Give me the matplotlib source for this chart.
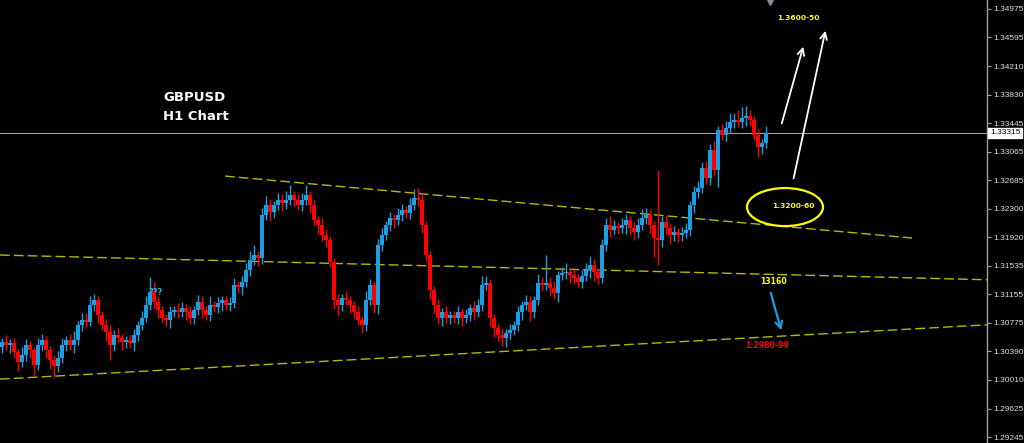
import numpy as np
import matplotlib
matplotlib.use('Agg')
import matplotlib.pyplot as plt
from matplotlib.patches import Ellipse

# ---------------------------------------------------------------------------
# GBPUSD H1 closes (open = previous close)
first_open = 1.30450
closes = [
    1.30516, 1.30475, 1.30502, 1.30382, 1.30248, 1.30342, 1.30475, 1.30409,
    1.30208, 1.30475, 1.30543, 1.30409, 1.30275, 1.30194, 1.30302, 1.30475,
    1.30543, 1.30475, 1.30543, 1.30743, 1.30810, 1.30783, 1.31011, 1.31078,
    1.30877, 1.30743, 1.30650, 1.30475, 1.30610, 1.30569, 1.30516, 1.30543,
    1.30502, 1.30610, 1.30743, 1.30837, 1.31011, 1.31185, 1.31051, 1.30944,
    1.30837, 1.30810, 1.30917, 1.30944, 1.30917, 1.30971, 1.30917, 1.30837,
    1.30944, 1.31051, 1.30944, 1.30877, 1.31011, 1.30984, 1.31038, 1.31078,
    1.31011, 1.31038, 1.31279, 1.31252, 1.31319, 1.31480, 1.31614, 1.31681,
    1.31641, 1.32216, 1.32350, 1.32256, 1.32350, 1.32417, 1.32377, 1.32417,
    1.32484, 1.32417, 1.32350, 1.32417, 1.32484, 1.32350, 1.32149, 1.32082,
    1.31949, 1.31882, 1.31587, 1.31078, 1.31011, 1.31105, 1.31078, 1.31011,
    1.30917, 1.30810, 1.30743, 1.31078, 1.31279, 1.31011, 1.31815, 1.31949,
    1.32082, 1.32176, 1.32149, 1.32216, 1.32283, 1.32243, 1.32350, 1.32444,
    1.32417, 1.32082, 1.31681, 1.31212, 1.31011, 1.30837, 1.30917, 1.30837,
    1.30877, 1.30837, 1.30917, 1.30837, 1.30877, 1.30971, 1.30917, 1.31011,
    1.31279, 1.31306, 1.30837, 1.30703, 1.30610, 1.30569, 1.30636, 1.30677,
    1.30743, 1.30917, 1.31011, 1.31051, 1.30917, 1.31078, 1.31306, 1.31279,
    1.31306, 1.31239, 1.31172, 1.31413, 1.31440, 1.31453, 1.31413, 1.31373,
    1.31319, 1.31400, 1.31480, 1.31547, 1.31453, 1.31373, 1.31815, 1.32082,
    1.32016, 1.32069, 1.32042, 1.32082, 1.32149, 1.32042, 1.31989, 1.32082,
    1.32176, 1.32216, 1.32082, 1.31909, 1.31882, 1.32122, 1.32042, 1.31949,
    1.31989, 1.31949, 1.31975, 1.32016, 1.32350, 1.32524, 1.32578, 1.32845,
    1.32712, 1.33087, 1.32819, 1.33354, 1.33287, 1.33381, 1.33461, 1.33488,
    1.33461, 1.33515, 1.33542, 1.33488, 1.33287, 1.33127, 1.33180, 1.33314,
]
# wick lengths in pips above / below the body
wick_up = [
    6, 9, 5, 7, 4, 11, 8, 6, 4, 10, 8, 6, 5, 7, 9, 10,
    6, 8, 12, 6, 9, 10, 12, 8, 6, 5, 8, 10, 7, 9, 6, 5,
    7, 8, 6, 10, 12, 20, 14, 8, 6, 5, 8, 6, 10, 8, 6, 8,
    6, 10, 8, 6, 12, 6, 8, 6, 5, 8, 10, 6, 8, 10, 12, 13,
    6, 10, 12, 8, 6, 10, 8, 12, 13, 6, 8, 10, 14, 6, 8, 6,
    10, 8, 6, 5, 8, 6, 10, 6, 5, 8, 6, 12, 8, 6, 8, 10,
    6, 8, 6, 10, 8, 6, 10, 12, 14, 8, 6, 5, 6, 8, 6, 8,
    6, 5, 8, 6, 8, 6, 10, 8, 12, 10, 6, 5, 6, 8, 6, 8,
    6, 8, 6, 10, 8, 6, 12, 8, 37, 8, 10, 6, 8, 12, 6, 8,
    6, 8, 10, 12, 8, 6, 8, 10, 12, 8, 6, 10, 8, 6, 8, 10,
    12, 10, 8, 6, 91, 8, 10, 6, 8, 6, 8, 10, 6, 8, 10, 8,
    10, 8, 12, 6, 8, 10, 12, 10, 13, 15, 14, 8, 6, 8, 6, 10,
]
wick_dn = [
    8, 6, 10, 8, 12, 6, 8, 10, 14, 6, 8, 10, 12, 14, 8, 6,
    8, 6, 10, 6, 8, 6, 5, 8, 10, 6, 12, 20, 8, 6, 10, 8,
    6, 10, 8, 6, 5, 6, 8, 10, 6, 8, 10, 6, 8, 6, 10, 8,
    8, 6, 10, 6, 8, 6, 8, 10, 6, 8, 6, 8, 10, 6, 8, 6,
    10, 8, 6, 12, 8, 6, 10, 8, 6, 8, 6, 8, 6, 10, 8, 12,
    8, 10, 6, 12, 14, 8, 6, 10, 8, 6, 10, 8, 6, 10, 12, 8,
    6, 8, 10, 6, 8, 6, 8, 6, 8, 10, 8, 12, 10, 8, 10, 6,
    8, 6, 8, 10, 6, 8, 10, 6, 8, 6, 10, 12, 8, 10, 12, 8,
    6, 8, 10, 6, 12, 8, 6, 8, 6, 10, 8, 12, 6, 8, 10, 8,
    6, 8, 6, 10, 12, 8, 6, 8, 10, 6, 8, 6, 12, 8, 10, 8,
    6, 8, 10, 25, 33, 10, 8, 12, 8, 10, 8, 6, 8, 10, 8, 6,
    8, 10, 8, 23, 6, 8, 6, 8, 6, 8, 10, 8, 6, 13, 10, 6,
]
PIP = 0.0001

price_ticks = [1.34975, 1.34595, 1.34210, 1.33830, 1.33445, 1.33065, 1.32685,
               1.32300, 1.31920, 1.31535, 1.31155, 1.30775, 1.30390, 1.30010,
               1.29625, 1.29245]
last_price = 1.33315

# trend lines: (bar index, price) anchors
trend_upper = [(55.75, 1.32738), (227.5, 1.31909)]
trend_mid = [(-0.5, 1.31681), (246.25, 1.31350)]
trend_low = [(-0.5, 1.30020), (246.25, 1.30747)]

BULL = '#1C9FE2'
BEAR = '#FF0000'
TREND = '#B8B800'
YEL = '#FFFF00'

# ---------------------------------------------------------------------------
closes = np.asarray(closes)
opens = np.concatenate([[first_open], closes[:-1]])
idx = np.arange(len(closes))
top = np.maximum(opens, closes)
bot = np.minimum(opens, closes)
highs = top + np.asarray(wick_up) * PIP
lows = bot - np.asarray(wick_dn) * PIP
up = closes >= opens
colors = np.where(up, BULL, BEAR)

fig = plt.figure(figsize=(10.24, 4.43), dpi=100, facecolor='black')
ax = fig.add_axes([0, 0, 987 / 1024, 1])
ax.set_facecolor('black')

ax.vlines(idx, lows, highs, colors=colors, lw=1.0, zorder=3)
heights = np.maximum(top - bot, 0.00012)
ax.bar(idx, heights, bottom=bot, width=0.78, color=colors, lw=0, zorder=4,
       antialiased=False)

for (x0, y0), (x1, y1) in (trend_upper, trend_mid, trend_low):
    ax.plot([x0, x1], [y0, y1], color=TREND, lw=1.0, dashes=(7, 3), zorder=2)

ax.axhline(last_price, color='#A0A0A0', lw=0.8, zorder=1)

# annotations
ax.text(40.25, 1.33796, 'GBPUSD', color='white', fontsize=9.5,
        fontweight='bold', family='DejaVu Sans', va='center', ha='left')
ax.text(40.25, 1.33542, 'H1 Chart', color='white', fontsize=9.5,
        fontweight='bold', family='DejaVu Sans', va='center', ha='left')
ax.text(36.5, 1.31185, '???', color='#3AA8D8', fontsize=6,
        fontweight='bold', va='center', ha='left')
ax.text(193.75, 1.34854, '1.3600-50', color=YEL, fontsize=5.4,
        fontweight='bold', va='center', ha='left')
ax.text(197.75, 1.32337, '1.3200-60', color=YEL, fontsize=5.4,
        fontweight='bold', va='center', ha='center')
ax.text(189.5, 1.31332, '13160', color=YEL, fontsize=5.6,
        fontweight='bold', va='center', ha='left')
ax.text(185.75, 1.30475, '1.2980-99', color=BEAR, fontsize=5.6,
        fontweight='bold', va='center', ha='left')

ax.add_patch(Ellipse((195.75, 1.32323), 19, 0.00509, fill=False,
                     edgecolor=YEL, lw=1.6, zorder=5))

arrow_w = dict(arrowstyle='->', color='white', lw=1.3, mutation_scale=12)
ax.annotate('', xy=(200.5, 1.34506), xytext=(194.75, 1.33408),
            arrowprops=arrow_w)
ax.annotate('', xy=(206.0, 1.34720), xytext=(197.75, 1.32671),
            arrowprops=arrow_w)
ax.annotate('', xy=(195.0, 1.30636), xytext=(192.0, 1.31212),
            arrowprops=dict(arrowstyle='->', color=BULL, lw=1.6,
                            mutation_scale=12))
ax.plot([192], [1.35070], marker='v', color='#8090A0', ms=4, zorder=5)

# axes / price scale
ax.set_xlim(-0.5, 246.25)
ax.set_ylim(1.29165, 1.35095)
for s in ('top', 'left', 'bottom'):
    ax.spines[s].set_visible(False)
ax.spines['right'].set_color('#A0A0A0')
ax.spines['right'].set_linewidth(1.0)
ax.set_xticks([])
ax.yaxis.tick_right()
ax.set_yticks(price_ticks)
ax.set_yticklabels([f'{v:.5f}' for v in price_ticks])
ax.tick_params(axis='y', colors='#A0A0A0', labelcolor='#E0E0E0', length=3,
               width=0.8, pad=1.5, labelsize=6.0)
for lbl in ax.get_yticklabels():
    lbl.set_family('Liberation Sans')

ax.text(1.003, last_price, f'{last_price:.5f}', transform=ax.get_yaxis_transform(),
        color='black', fontsize=6.0, family='Liberation Sans', va='center',
        ha='left', bbox=dict(boxstyle='square,pad=0.2', fc='white', ec='white'),
        clip_on=False, zorder=6)

fig.savefig('out.png', dpi=100, facecolor='black')
